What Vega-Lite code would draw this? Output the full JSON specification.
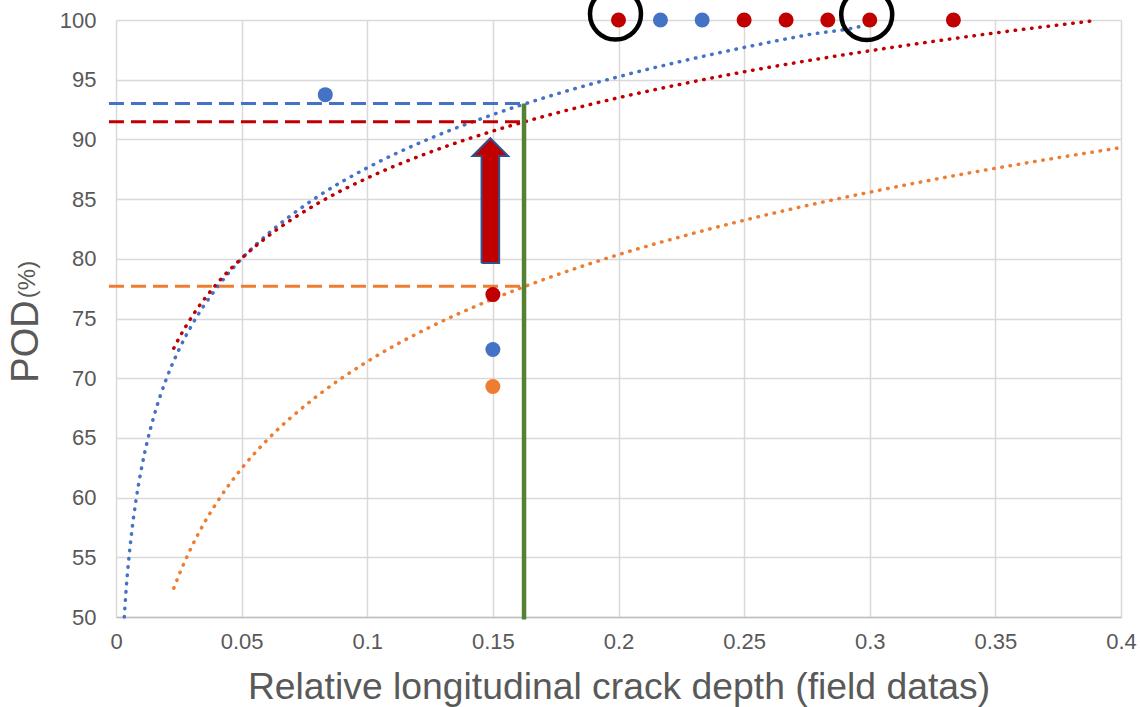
{
  "$schema": "https://vega.github.io/schema/vega-lite/v6.json",
  "width": 1005,
  "height": 597,
  "autosize": {"type": "none"},
  "padding": {"left": 116, "top": 20, "right": 19, "bottom": 90},
  "background": "white",
  "config": {"view": {"stroke": null}, "font": "Liberation Sans"},
  "title": {"text": "(%)", "orient": "left", "anchor": "middle", "fontSize": 24, "font": "Liberation Sans", "fontWeight": "normal", "color": "#595959", "offset": -33, "dx": 39},
  "datasets": {
    "curves": [
      {"s": "blue", "x": 0.0033, "y": 50.0},
      {"s": "blue", "x": 0.004, "y": 52.22},
      {"s": "blue", "x": 0.005, "y": 54.67},
      {"s": "blue", "x": 0.006, "y": 56.67},
      {"s": "blue", "x": 0.008, "y": 59.84},
      {"s": "blue", "x": 0.01, "y": 62.29},
      {"s": "blue", "x": 0.0125, "y": 64.75},
      {"s": "blue", "x": 0.015, "y": 66.75},
      {"s": "blue", "x": 0.02, "y": 69.92},
      {"s": "blue", "x": 0.025, "y": 72.37},
      {"s": "blue", "x": 0.03, "y": 74.38},
      {"s": "blue", "x": 0.04, "y": 77.54},
      {"s": "blue", "x": 0.05, "y": 80.0},
      {"s": "blue", "x": 0.06, "y": 82.0},
      {"s": "blue", "x": 0.08, "y": 85.17},
      {"s": "blue", "x": 0.1, "y": 87.62},
      {"s": "blue", "x": 0.125, "y": 90.08},
      {"s": "blue", "x": 0.15, "y": 92.08},
      {"s": "blue", "x": 0.175, "y": 93.78},
      {"s": "blue", "x": 0.2, "y": 95.25},
      {"s": "blue", "x": 0.225, "y": 96.54},
      {"s": "blue", "x": 0.25, "y": 97.7},
      {"s": "blue", "x": 0.275, "y": 98.75},
      {"s": "blue", "x": 0.3, "y": 99.71},
      {"s": "blue", "x": 0.303, "y": 100.0},
      {"s": "red", "x": 0.023, "y": 72.51},
      {"s": "red", "x": 0.025, "y": 73.32},
      {"s": "red", "x": 0.03, "y": 75.08},
      {"s": "red", "x": 0.04, "y": 77.88},
      {"s": "red", "x": 0.05, "y": 80.04},
      {"s": "red", "x": 0.06, "y": 81.81},
      {"s": "red", "x": 0.08, "y": 84.6},
      {"s": "red", "x": 0.1, "y": 86.76},
      {"s": "red", "x": 0.125, "y": 88.93},
      {"s": "red", "x": 0.15, "y": 90.7},
      {"s": "red", "x": 0.175, "y": 92.19},
      {"s": "red", "x": 0.2, "y": 93.49},
      {"s": "red", "x": 0.225, "y": 94.63},
      {"s": "red", "x": 0.25, "y": 95.66},
      {"s": "red", "x": 0.275, "y": 96.58},
      {"s": "red", "x": 0.3, "y": 97.42},
      {"s": "red", "x": 0.325, "y": 98.2},
      {"s": "red", "x": 0.35, "y": 98.92},
      {"s": "red", "x": 0.375, "y": 99.58},
      {"s": "red", "x": 0.39, "y": 99.96},
      {"s": "orange", "x": 0.023, "y": 52.41},
      {"s": "orange", "x": 0.025, "y": 53.48},
      {"s": "orange", "x": 0.03, "y": 55.83},
      {"s": "orange", "x": 0.035, "y": 57.83},
      {"s": "orange", "x": 0.04, "y": 59.55},
      {"s": "orange", "x": 0.05, "y": 62.44},
      {"s": "orange", "x": 0.06, "y": 64.79},
      {"s": "orange", "x": 0.08, "y": 68.5},
      {"s": "orange", "x": 0.1, "y": 71.39},
      {"s": "orange", "x": 0.125, "y": 74.28},
      {"s": "orange", "x": 0.15, "y": 76.63},
      {"s": "orange", "x": 0.175, "y": 78.62},
      {"s": "orange", "x": 0.2, "y": 80.35},
      {"s": "orange", "x": 0.225, "y": 81.86},
      {"s": "orange", "x": 0.25, "y": 83.23},
      {"s": "orange", "x": 0.275, "y": 84.46},
      {"s": "orange", "x": 0.3, "y": 85.58},
      {"s": "orange", "x": 0.325, "y": 86.62},
      {"s": "orange", "x": 0.35, "y": 87.58},
      {"s": "orange", "x": 0.375, "y": 88.47},
      {"s": "orange", "x": 0.4, "y": 89.31}
    ],
    "dashes": [
      {"s": "blue", "x": -0.0028, "x2": 0.1624, "y": 93.0},
      {"s": "red", "x": -0.0028, "x2": 0.1624, "y": 91.47},
      {"s": "orange", "x": -0.0028, "x2": 0.1624, "y": 77.7}
    ],
    "green": [{"x": 0.1624, "y": 49.8, "y2": 93.0}],
    "arrow": [
      {"i": 1, "x": 0.1455, "y": 79.65},
      {"i": 2, "x": 0.1455, "y": 88.6},
      {"i": 3, "x": 0.1419, "y": 88.6},
      {"i": 4, "x": 0.149, "y": 90.1},
      {"i": 5, "x": 0.1561, "y": 88.6},
      {"i": 6, "x": 0.1525, "y": 88.6},
      {"i": 7, "x": 0.1525, "y": 79.65},
      {"i": 8, "x": 0.1455, "y": 79.65}
    ],
    "points": [
      {"s": "red", "x": 0.2, "y": 100},
      {"s": "blue", "x": 0.2167, "y": 100},
      {"s": "blue", "x": 0.2333, "y": 100},
      {"s": "red", "x": 0.25, "y": 100},
      {"s": "red", "x": 0.2667, "y": 100},
      {"s": "red", "x": 0.2833, "y": 100},
      {"s": "red", "x": 0.3, "y": 100},
      {"s": "red", "x": 0.3333, "y": 100},
      {"s": "blue", "x": 0.0833, "y": 93.75},
      {"s": "red", "x": 0.15, "y": 77.0},
      {"s": "blue", "x": 0.15, "y": 72.4},
      {"s": "orange", "x": 0.15, "y": 69.3}
    ],
    "rings": [
      {"x": 0.1988, "y": 100.5},
      {"x": 0.2988, "y": 100.45}
    ]
  },
  "layer": [
    {
      "data": {"name": "curves"},
      "mark": {"type": "line", "interpolate": "monotone", "strokeWidth": 3.5, "strokeDash": [0.5, 7.8], "strokeCap": "round"},
      "encoding": {
        "x": {
          "field": "x", "type": "quantitative",
          "scale": {"domain": [0, 0.4], "nice": false, "zero": false},
          "axis": {
            "values": [0, 0.05, 0.1, 0.15, 0.2, 0.25, 0.3, 0.35, 0.4],
            "format": "~g",
            "title": "Relative longitudinal crack depth (field datas)",
            "titleFontSize": 37.3, "titleFontWeight": "normal", "titleColor": "#595959", "titlePadding": 17,
            "labelFontSize": 22, "labelColor": "#595959", "labelPadding": 14,
            "ticks": false, "tickSize": 0,
            "grid": true, "gridColor": "#d9d9d9", "gridWidth": 1.5,
            "domainColor": "#bfbfbf", "domainWidth": 1.5,
            "labelFlush": false
          }
        },
        "y": {
          "field": "y", "type": "quantitative",
          "scale": {"domain": [50, 100], "nice": false, "zero": false},
          "axis": {
            "values": [50, 55, 60, 65, 70, 75, 80, 85, 90, 95, 100],
            "title": "POD",
            "titleFontSize": 38, "titleFontWeight": "normal", "titleColor": "#595959", "titlePadding": 14,
            "titleY": 321,
            "labelFontSize": 22, "labelColor": "#595959", "labelPadding": 20,
            "ticks": false, "tickSize": 0,
            "grid": true, "gridColor": "#d9d9d9", "gridWidth": 1.5,
            "domain": false
          }
        },
        "color": {
          "field": "s", "type": "nominal", "legend": null,
          "scale": {"domain": ["blue", "red", "orange"], "range": ["#4472C4", "#C00000", "#ED7D31"]}
        },
        "detail": {"field": "s"}
      }
    },
    {
      "data": {"name": "dashes"},
      "mark": {"type": "rule", "strokeWidth": 3, "strokeDash": [15, 7]},
      "encoding": {
        "x": {"field": "x", "type": "quantitative"},
        "x2": {"field": "x2"},
        "y": {"field": "y", "type": "quantitative"},
        "color": {"field": "s", "type": "nominal", "legend": null}
      }
    },
    {
      "data": {"name": "green"},
      "mark": {"type": "rule", "strokeWidth": 4.5, "color": "#548235"},
      "encoding": {
        "x": {"field": "x", "type": "quantitative"},
        "y": {"field": "y", "type": "quantitative"},
        "y2": {"field": "y2"}
      }
    },
    {
      "data": {"name": "arrow"},
      "mark": {"type": "line", "fill": "#C00000", "stroke": "#2F528F", "strokeWidth": 2, "strokeJoin": "miter"},
      "encoding": {
        "x": {"field": "x", "type": "quantitative"},
        "y": {"field": "y", "type": "quantitative"},
        "order": {"field": "i", "type": "quantitative"}
      }
    },
    {
      "data": {"name": "points"},
      "mark": {"type": "point", "filled": true, "size": 225, "opacity": 1},
      "encoding": {
        "x": {"field": "x", "type": "quantitative"},
        "y": {"field": "y", "type": "quantitative"},
        "color": {"field": "s", "type": "nominal", "legend": null}
      }
    },
    {
      "data": {"name": "rings"},
      "mark": {"type": "point", "filled": false, "size": 2600, "stroke": "#000000", "strokeWidth": 4.5, "opacity": 1},
      "encoding": {
        "x": {"field": "x", "type": "quantitative"},
        "y": {"field": "y", "type": "quantitative"}
      }
    }
  ]
}
